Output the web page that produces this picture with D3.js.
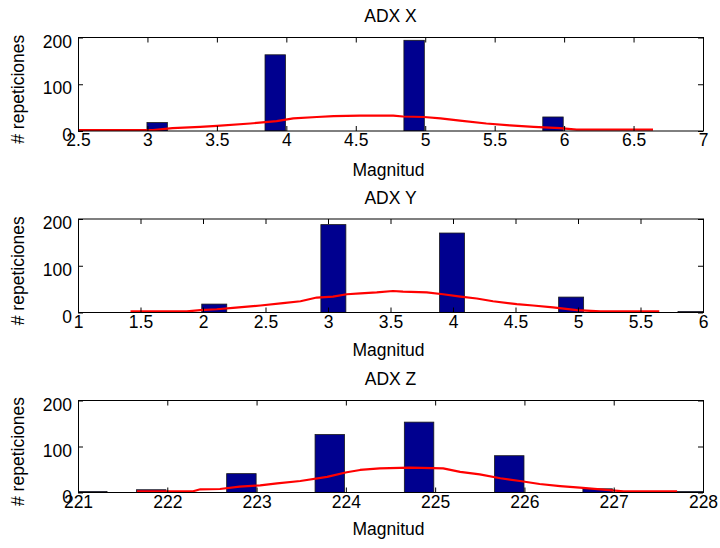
<!DOCTYPE html>
<html>
<head>
<meta charset="utf-8">
<script src="https://cdn.jsdelivr.net/npm/d3@7"></script>
<style>
  html, body { margin: 0; padding: 0; background: #fff; }
  svg { display: block; }
</style>
</head>
<body>
<script>
// ---- Histogram counts (bar centres, widths and heights) ----
const xCenters = [3.07, 3.92, 4.92, 5.92];
const xCounts  = [18, 163, 194, 30];
const xBarWidth = 0.147;

const yCenters = [2.09, 3.043, 3.992, 4.945, 5.9];
const yCounts  = [18, 188, 170, 33, 2];
const yBarWidth = 0.2;

const zCenters = [221.16, 221.82, 222.83, 223.82, 224.82, 225.83, 226.82, 227.84];
const zCounts  = [2, 6, 41, 126, 153, 80, 8, 2];
const zBarWidth = 0.33;

// ---- Fitted distribution curves ----
const xFitX = [2.5, 3.04, 3.18, 3.38, 3.5, 3.74, 3.93, 4.05, 4.22, 4.34, 4.53, 4.77, 4.84, 4.99, 5.11, 5.25, 5.44, 5.61, 5.78, 5.97, 6.09, 6.64];
const xFitY = [2, 2, 6, 9, 11, 16, 21, 27, 30, 32, 33, 33, 31, 30, 27, 22, 16, 12, 9, 6, 3, 3];

const yFitX = [1.42, 1.87, 1.98, 2.11, 2.24, 2.46, 2.64, 2.78, 2.91, 3.04, 3.15, 3.26, 3.39, 3.52, 3.6, 3.79, 3.92, 4.06, 4.19, 4.32, 4.51, 4.64, 4.8, 4.99, 5.18, 5.65];
const yFitY = [2.5, 2.5, 5, 7, 10, 15, 20, 24, 32, 34, 39, 41, 43, 46, 44.5, 43, 39, 34, 30, 24, 18, 15, 11, 5, 2.5, 2.5];

const zFitX = [221.66, 222.29, 222.37, 222.59, 222.81, 223.04, 223.23, 223.49, 223.79, 224.01, 224.16, 224.38, 224.72, 225.09, 225.28, 225.5, 225.73, 225.95, 226.17, 226.4, 226.62, 226.85, 227.11, 227.71];
const zFitY = [2.6, 2.6, 7, 7.6, 12.6, 15.6, 20, 25, 34, 44, 49, 52.5, 54, 52.5, 45, 39.5, 31, 25, 18.5, 14, 10.5, 7, 2.6, 2.6];

// ---- Axis domains and tick labels ----
const xDomain = [2.5, 7];
const xTicks = [2.5, 3, 3.5, 4, 4.5, 5, 5.5, 6, 6.5, 7];
const yDomain = [1, 6];
const yTicks = [1, 1.5, 2, 2.5, 3, 3.5, 4, 4.5, 5, 5.5, 6];
const zDomain = [221, 228];
const zTicks = [221, 222, 223, 224, 225, 226, 227, 228];
const countTicks = [0, 100, 200];
const countDomain = [0, 200];

const titles = ["ADX X", "ADX Y", "ADX Z"];
const xLabel = "Magnitud";
const yLabel = "# repeticiones";

const panels = [
  { title: titles[0], domain: xDomain, ticks: xTicks, centers: xCenters, counts: xCounts, bw: xBarWidth, fx: xFitX, fy: xFitY, top: 37.5, bottom: 131, labelGap: 45 },
  { title: titles[1], domain: yDomain, ticks: yTicks, centers: yCenters, counts: yCounts, bw: yBarWidth, fx: yFitX, fy: yFitY, top: 219, bottom: 312.5, labelGap: 43.7 },
  { title: titles[2], domain: zDomain, ticks: zTicks, centers: zCenters, counts: zCounts, bw: zBarWidth, fx: zFitX, fy: zFitY, top: 400.5, bottom: 492.5, labelGap: 42 }
];

const W = 720, H = 548;
const left = 78, right = 703;
const FS = 17.5;
const FONT = '"Liberation Sans", Arial, sans-serif';

const svg = d3.select("body").append("svg")
  .attr("width", W).attr("height", H)
  .attr("font-family", FONT);

panels.forEach((p, i) => {
  const x = d3.scaleLinear().domain(p.domain).range([left, right]);
  const y = d3.scaleLinear().domain(countDomain).range([p.bottom, p.top]);
  const g = svg.append("g");

  const clipId = "clip" + i;
  g.append("clipPath").attr("id", clipId)
    .append("rect").attr("x", left).attr("y", p.top)
    .attr("width", right - left).attr("height", p.bottom - p.top);

  const plot = g.append("g").attr("clip-path", `url(#${clipId})`);

  // bars
  plot.selectAll("rect.bar")
    .data(p.centers.map((c, k) => ({ c, n: p.counts[k] })))
    .join("rect")
    .attr("class", "bar")
    .attr("x", d => x(d.c - p.bw / 2))
    .attr("width", d => x(d.c + p.bw / 2) - x(d.c - p.bw / 2))
    .attr("y", d => y(d.n))
    .attr("height", d => y(0) - y(d.n))
    .attr("fill", "#00008f")
    .attr("stroke", "#1a1a1a")
    .attr("stroke-width", 0.8);

  // fitted curve
  const line = d3.line().x(d => x(d[0])).y(d => y(d[1]));
  plot.append("path")
    .datum(p.fx.map((v, k) => [v, p.fy[k]]))
    .attr("d", line)
    .attr("fill", "none")
    .attr("stroke", "#ff0000")
    .attr("stroke-width", 2.2)
    .attr("stroke-linejoin", "round");

  // axes with inward ticks
  const styleAxis = sel => {
    sel.attr("font-size", FS).attr("font-family", FONT);
    sel.select(".domain").remove();
    sel.selectAll("line").attr("stroke", "#000");
    sel.selectAll("text").attr("fill", "#000");
  };

  g.append("g").attr("transform", `translate(0,${p.bottom})`)
    .call(d3.axisBottom(x).tickValues(p.ticks).tickSize(-5).tickPadding(3).tickFormat(d3.format("~g")))
    .call(styleAxis);
  g.append("g").attr("transform", `translate(0,${p.top})`)
    .call(d3.axisTop(x).tickValues(p.ticks).tickSize(-5).tickFormat(""))
    .call(styleAxis);
  g.append("g").attr("transform", `translate(${left},0)`)
    .call(d3.axisLeft(y).tickValues(countTicks).tickSize(-5).tickPadding(6))
    .call(styleAxis)
    .selectAll("text").attr("dy", "0.55em");
  g.append("g").attr("transform", `translate(${right},0)`)
    .call(d3.axisRight(y).tickValues(countTicks).tickSize(-5).tickFormat(""))
    .call(styleAxis);

  // box
  g.append("rect")
    .attr("x", left + 0.5).attr("y", p.top)
    .attr("width", right - left).attr("height", p.bottom - p.top)
    .attr("fill", "none").attr("stroke", "#000").attr("stroke-width", 1);

  // title and labels
  const cx = (left + right) / 2;
  g.append("text").attr("x", cx).attr("y", p.top - 15.5)
    .attr("text-anchor", "middle").attr("font-size", FS).text(p.title);
  g.append("text").attr("x", cx - 2).attr("y", p.bottom + p.labelGap)
    .attr("text-anchor", "middle").attr("font-size", FS).text(xLabel);
  const my = (p.top + p.bottom) / 2 + 5;
  g.append("text")
    .attr("transform", `translate(24,${my}) rotate(-90)`)
    .attr("text-anchor", "middle").attr("font-size", FS).text(yLabel);
});
</script>
</body>
</html>
